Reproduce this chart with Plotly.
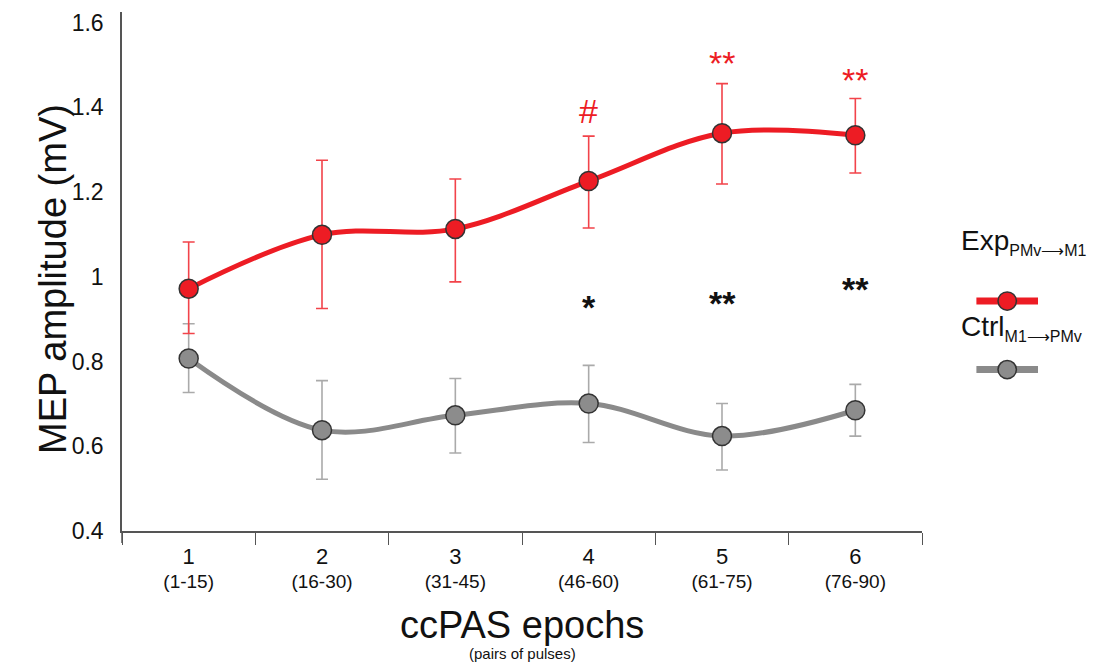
import plotly.graph_objects as go

epochs = ["1", "2", "3", "4", "5", "6"]
pulses = ["(1-15)", "(16-30)", "(31-45)", "(46-60)", "(61-75)", "(76-90)"]

exp_mean = [0.972, 1.099, 1.113, 1.226, 1.339, 1.334]
exp_err_plus = [0.110, 0.176, 0.118, 0.106, 0.117, 0.087]
exp_err_minus = [0.106, 0.174, 0.125, 0.111, 0.120, 0.089]

ctrl_mean = [0.807, 0.638, 0.673, 0.701, 0.624, 0.685]
ctrl_err_plus = [0.082, 0.117, 0.087, 0.090, 0.077, 0.061]
ctrl_err_minus = [0.080, 0.116, 0.089, 0.092, 0.080, 0.061]

exp_marks = ["", "", "", "#", "**", "**"]
exp_mark_y = [None, None, None, 1.391, 1.505, 1.465]
diff_marks = ["", "", "", "*", "**", "**"]
diff_mark_y = [None, None, None, 0.929, 0.937, 0.972]

RED = "#ED1C24"
GRAY = "#8A8A8A"
FONT = "Arial, Liberation Sans, sans-serif"

cats = [f"<span style='font-size:22px'>{e}</span><br><span style='font-size:19px'>{p}</span>"
        for e, p in zip(epochs, pulses)]

fig = go.Figure()
fig.add_trace(go.Scatter(
    x=cats, y=ctrl_mean, mode="lines+markers",
    line=dict(color=GRAY, width=5, shape="spline", smoothing=1.0),
    marker=dict(size=19, color="#8C8C8C", line=dict(color="#333333", width=1.5)),
    error_y=dict(type="data", symmetric=False, array=ctrl_err_plus, arrayminus=ctrl_err_minus,
                 color="#AAAAAA", thickness=1.6, width=6),
    showlegend=False,
))
fig.add_trace(go.Scatter(
    x=cats, y=exp_mean, mode="lines+markers",
    line=dict(color=RED, width=5, shape="spline", smoothing=1.0),
    marker=dict(size=19, color=RED, line=dict(color="#333333", width=1.5)),
    error_y=dict(type="data", symmetric=False, array=exp_err_plus, arrayminus=exp_err_minus,
                 color="#F2434A", thickness=1.6, width=6),
    showlegend=False,
))

annotations = []
for c, m, yv in zip(cats, exp_marks, exp_mark_y):
    if m:
        annotations.append(dict(x=c, y=yv, xref="x", yref="y", text=m, showarrow=False,
                                font=dict(family=FONT, size=34, color=RED), yanchor="middle"))
for c, m, yv in zip(cats, diff_marks, diff_mark_y):
    if m:
        annotations.append(dict(x=c, y=yv, xref="x", yref="y", text=f"<b>{m}</b>", showarrow=False,
                                font=dict(family=FONT, size=34, color="#111111"), yanchor="middle"))

# axis titles
annotations.append(dict(x=-0.086, y=0.486, xref="paper", yref="paper", text="MEP amplitude (mV)",
                        textangle=-90, showarrow=False, xanchor="center", yanchor="middle",
                        font=dict(family=FONT, size=38, color="#111111")))
annotations.append(dict(x=0.5, y=-0.182, xref="paper", yref="paper", text="ccPAS epochs",
                        showarrow=False, xanchor="center", yanchor="middle",
                        font=dict(family=FONT, size=38, color="#111111")))
annotations.append(dict(x=0.5, y=-0.236, xref="paper", yref="paper", text="(pairs of pulses)",
                        showarrow=False, xanchor="center", yanchor="middle",
                        font=dict(family=FONT, size=15, color="#111111")))

# legend
annotations.append(dict(x=1.046, y=0.557, xref="paper", yref="paper",
                        text="Exp<sub><span style='font-size:16px'>PMv⟶M1</span></sub>",
                        showarrow=False, xanchor="left", yanchor="middle",
                        font=dict(family=FONT, size=28, color="#111111")))
annotations.append(dict(x=1.046, y=0.392, xref="paper", yref="paper",
                        text="Ctrl<sub><span style='font-size:16px'>M1⟶PMv</span></sub>",
                        showarrow=False, xanchor="left", yanchor="middle",
                        font=dict(family=FONT, size=28, color="#111111")))

shapes = []
for yy, col, fill in [(0.443, RED, RED), (0.311, GRAY, "#8C8C8C")]:
    shapes.append(dict(type="line", xref="paper", yref="paper", x0=1.068, x1=1.145, y0=yy, y1=yy,
                       line=dict(color=col, width=7)))
    shapes.append(dict(type="circle", xref="paper", yref="paper",
                       x0=1.1065 - 0.0115, x1=1.1065 + 0.0115, y0=yy - 0.0177, y1=yy + 0.0177,
                       fillcolor=fill, line=dict(color="#333333", width=1.5)))
# y axis extension below x axis
shapes.append(dict(type="line", xref="paper", yref="paper", x0=0, x1=0, y0=0, y1=-0.023,
                   line=dict(color="#555555", width=1.5)))

fig.update_layout(
    width=1096, height=667,
    margin=dict(l=114, r=182, t=2, b=144),
    paper_bgcolor="white", plot_bgcolor="white",
    font=dict(family=FONT, color="#111111"),
    annotations=annotations, shapes=shapes,
)
fig.update_xaxes(
    type="category", range=[-0.5, 5.5], tickson="boundaries",
    showline=True, linecolor="#555555", linewidth=1.5,
    ticks="outside", ticklen=12, tickcolor="#555555", tickwidth=1.2,
    tickfont=dict(family=FONT, size=19, color="#111111"), ticklabelstandoff=8,
    showgrid=False, zeroline=False,
)
fig.update_yaxes(
    range=[0.4, 1.625], tickvals=[0.4, 0.6, 0.8, 1.0, 1.2, 1.4, 1.6],
    ticktext=["0.4", "0.6", "0.8", "1", "1.2", "1.4", "1.6"],
    showline=True, linecolor="#555555", linewidth=1.5, ticks="", ticklabelstandoff=12,
    ticklabeloverflow="allow",
    tickfont=dict(family=FONT, size=23, color="#111111"),
    showgrid=False, zeroline=False,
)

fig.write_html("out.html")
